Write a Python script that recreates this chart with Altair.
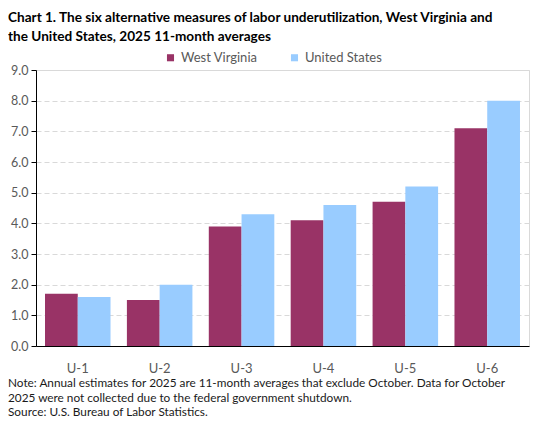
import altair as alt
import pandas as pd

measures = ["U-1", "U-2", "U-3", "U-4", "U-5", "U-6"]
west_virginia = [1.7, 1.5, 3.9, 4.1, 4.7, 7.1]
united_states = [1.6, 2.0, 4.3, 4.6, 5.2, 8.0]
areas = ["West Virginia", "United States"]
colors = ["#993366", "#99CCFF"]

title_lines = [
    "Chart 1. The six alternative measures of labor underutilization, West Virginia and",
    "the United States, 2025 11-month averages",
]
note_lines = [
    "Note:  Annual estimates for 2025 are 11-month averages that exclude October. Data for October",
    "2025 were  not collected due to the  federal government  shutdown.",
    "Source: U.S. Bureau of Labor Statistics.",
]

FONT = "Lato"

rows = []
for m, wv, us in zip(measures, west_virginia, united_states):
    rows.append({"measure": m, "area": areas[0], "value": wv})
    rows.append({"measure": m, "area": areas[1], "value": us})
df = pd.DataFrame(rows)

# plot area sits at page x=36, y=70 (svg starts at the 8px page margin)
bars = alt.Chart(df).mark_bar().encode(
    x=alt.X(
        "measure:N",
        sort=measures,
        title=None,
        scale=alt.Scale(paddingInner=0.2, paddingOuter=0.11),
        axis=alt.Axis(
            labelAngle=0, ticks=False, domainColor="#000000", labelPadding=16,
            labelColor="#595959", labelFontSize=13, grid=False,
        ),
    ),
    xOffset=alt.XOffset("area:N", sort=areas),
    y=alt.Y(
        "value:Q",
        title=None,
        scale=alt.Scale(domain=[0, 9], nice=False),
        axis=alt.Axis(
            values=list(range(10)), format=".1f", domainColor="#000000",
            tickColor="#000000", tickSize=5, labelPadding=3,
            labelColor="#595959", labelFontSize=12.5,
            gridColor="#d9d9d9", gridDash=[5, 3],
        ),
    ),
    color=alt.Color(
        "area:N",
        sort=areas,
        scale=alt.Scale(domain=areas, range=colors),
        legend=alt.Legend(
            title=None, orient="none", direction="horizontal",
            legendX=128, legendY=-19, symbolType="square", symbolSize=50,
            symbolStrokeWidth=0, labelFontSize=13, labelColor="#595959",
            columnPadding=30, labelOffset=4,
        ),
    ),
)

note_df = pd.DataFrame({"line": note_lines, "row": [0, 1, 2]})
notes = alt.Chart(note_df).mark_text(
    align="left", baseline="middle", fontSize=11.8, color="#1a1a1a", font=FONT
).encode(
    x=alt.value(-28),
    y=alt.Y("row:Q", scale=alt.Scale(domain=[0, 2], range=[313, 342]), axis=None),
    text="line:N",
)

chart = (
    alt.layer(bars, notes)
    .resolve_scale(y="independent")
    .properties(
        width=493,
        height=276,
        autosize=alt.AutoSizeParams(type="none"),
        padding={"left": 28, "top": 62, "right": 6, "bottom": 80},
        title=alt.TitleParams(
            text=title_lines, anchor="start", frame="group", fontSize=13.6,
            fontWeight="bold", color="#000000", font=FONT, dx=-28,
            offset=7, lineHeight=19,
        ),
    )
    .configure_view(stroke="#d9d9d9")
    .configure_axis(labelFont=FONT)
    .configure_legend(labelFont=FONT)
)

chart.save("out.html", embed_options={"renderer": "svg", "actions": False})
